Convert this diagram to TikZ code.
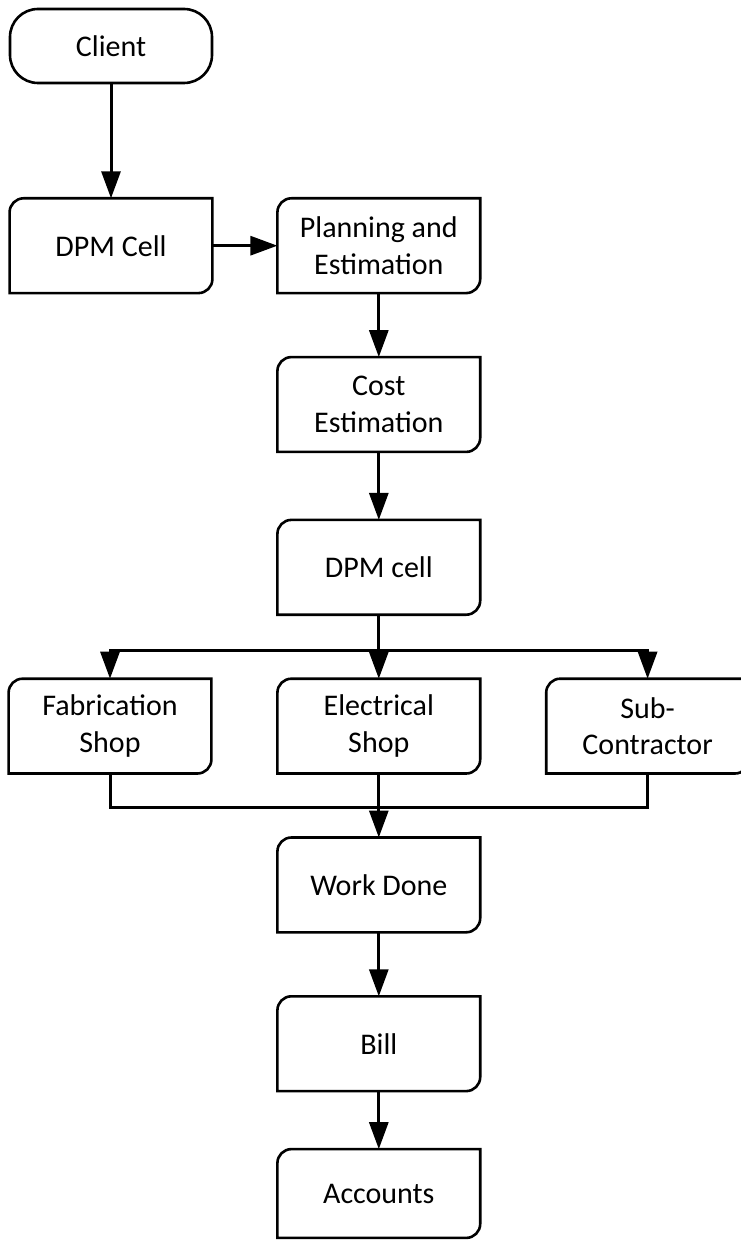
\documentclass[tikz,border=0pt]{standalone}
\usepackage{fontspec}
\setmainfont{Carlito}
\usetikzlibrary{positioning,arrows.meta}

\begin{document}
\begin{tikzpicture}[
  node distance=32pt,
  term/.style={draw,rounded corners=14pt,line width=1.3pt,align=center,
               minimum width=101pt,minimum height=37pt,inner sep=2pt,
               font=\fontsize{15}{18.3}\selectfont},
  box/.style={align=center,minimum width=101pt,minimum height=47pt,
              inner sep=2pt,font=\fontsize{15}{18.3}\selectfont},
  outline/.style={line width=1.3pt},
  arr/.style={-{Triangle[length=13.5pt,width=9.5pt]},line width=1.5pt},
  line/.style={line width=1.5pt}
]
\useasboundingbox (0,0) rectangle (370pt,-620pt);

\node[term] (client) at (55.5pt,-23pt) {Client};

\node[box,below=57pt of client] (dpm) {DPM Cell};
\node[box,right=32.5pt of dpm] (plan) {Planning and\\Estimation};
\node[box,below=of plan] (cost) {Cost\\Estimation};
\node[box,below=34pt of cost] (cell) {DPM cell};

\node[box,below=of cell] (elec) {Electrical\\Shop};
\node[box,left=33pt of elec] (fab) {Fabrication\\Shop};
\node[box,right=33pt of elec] (sub) {Sub-\\Contractor};

\node[box,below=32pt of elec] (done) {Work Done};
\node[box,below=of done] (bill) {Bill};
\node[box,below=29pt of bill,minimum height=44pt] (acc) {Accounts};

% box outlines: top-left and bottom-right corners rounded
\foreach \n in {dpm,plan,cost,cell,fab,elec,sub,done,bill,acc}
  {\draw[outline] (\n.west) [rounded corners=7pt] -- (\n.north west) -- (\n.north)
     [sharp corners] -- (\n.north east) -- (\n.east)
     [rounded corners=7pt] -- (\n.south east) -- (\n.south)
     [sharp corners] -- (\n.south west) -- cycle;}

\draw[arr] (client)--(dpm);
\draw[arr] (dpm)--(plan);
\foreach \u/\v in {plan/cost,cost/cell,done/bill,bill/acc}
  {\draw[arr] (\u)--(\v);}

% split to the three shops
\draw[line] (cell.south) -- ++(0,-18pt) coordinate (split);
\draw[arr] (split) -| (fab.north);
\draw[arr] (split) -| (sub.north);
\draw[arr] (split) -- (elec.north);

% join back to work done
\draw[line] (elec.south) -- ++(0,-17pt) coordinate (join);
\draw[line] (fab.south) |- (join);
\draw[line] (sub.south) |- (join);
\draw[arr] (join) -- (done.north);

\end{tikzpicture}
\end{document}
